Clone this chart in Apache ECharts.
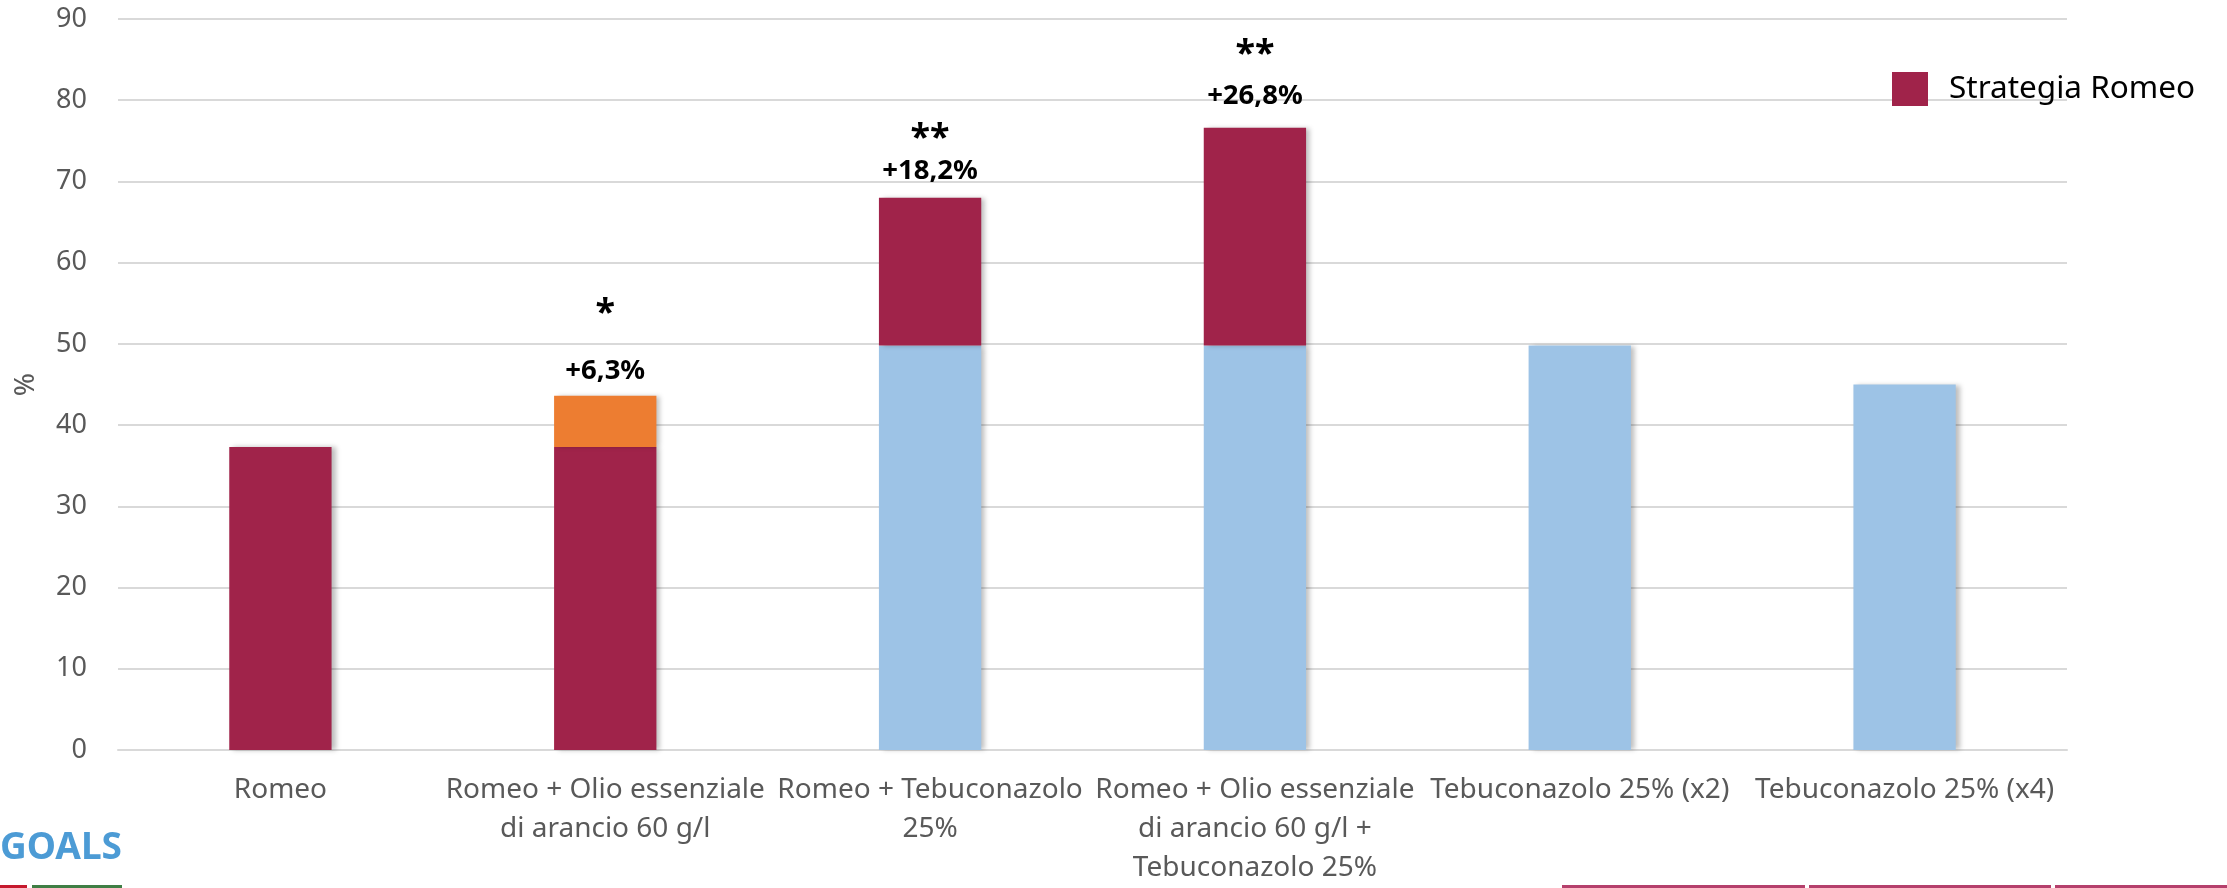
<!DOCTYPE html>
<html>
<head>
<meta charset="utf-8">
<script src="https://cdn.jsdelivr.net/npm/echarts@6/dist/echarts.min.js"></script>
<style>html,body{margin:0;padding:0;background:#fff}#c{width:2227px;height:888px}</style>
</head>
<body>
<div id="c"></div>
<script>
const categories = [
  'Romeo',
  'Romeo + Olio essenziale\ndi arancio 60 g/l',
  'Romeo + Tebuconazolo\n25%',
  'Romeo + Olio essenziale\ndi arancio 60 g/l +\nTebuconazolo 25%',
  'Tebuconazolo 25% (x2)',
  'Tebuconazolo 25% (x4)'
];
const tebuconazolo = ['-', '-', 49.8, 49.8, 49.8, 45.0];
const strategiaRomeo = [37.3, 37.3, 18.2, 26.8, '-', '-'];
const olioArancio = ['-', 6.3, '-', '-', '-', '-'];
const increments = ['', '+6,3%', '+18,2%', '+26,8%', '', ''];
const stars = ['', '*', '**', '**', '', ''];
const yTicks = { min: 0, max: 90, interval: 10 };

const shadow = { shadowBlur: 5, shadowOffsetX: 4, shadowOffsetY: 0, shadowColor: 'rgba(0,0,0,0.26)' };
const FONT = 'Noto Sans';

// per-annotation spacing (style only)
const starLineHeights = [0, 80, 30, 48, 0, 0];
const labelDistances = [0, 8, 10, 15, 0, 0];

function labelFor(i) {
  return {
    show: true,
    position: 'top',
    distance: labelDistances[i],
    formatter: '{s|' + stars[i] + '}\n{p|' + increments[i] + '}',
    rich: {
      s: { fontSize: 36, fontWeight: 'bold', color: '#000', fontFamily: FONT, lineHeight: starLineHeights[i] },
      p: { fontSize: 27.5, fontWeight: 'bold', color: '#000', fontFamily: FONT, lineHeight: 34 }
    }
  };
}

const redData = strategiaRomeo.map((v, i) => {
  if (increments[i] && olioArancio[i] === '-') return { value: v, label: labelFor(i) };
  return v;
});
const orangeData = olioArancio.map((v, i) => {
  if (increments[i] && v !== '-') return { value: v, label: labelFor(i) };
  return v;
});

const chart = echarts.init(document.getElementById('c'));
chart.setOption({
  animation: false,
  textStyle: { fontFamily: FONT },
  grid: { left: 118, right: 160, top: 19, bottom: 135 },
  legend: {
    data: ['Strategia Romeo'],
    left: 1887, top: 67,
    itemWidth: 36, itemHeight: 34,
    icon: 'rect',
    textStyle: { fontSize: 31.5, color: '#000', fontFamily: FONT, padding: [0,0,0,16] }
  },
  xAxis: {
    type: 'category',
    data: categories,
    axisLine: { show: true, lineStyle: { color: '#d9d9d9', width: 2 } },
    axisTick: { show: false },
    axisLabel: { color: '#595959', fontSize: 28, fontFamily: FONT, lineHeight: 39, margin: 21, interval: 0 }
  },
  yAxis: {
    type: 'value',
    min: yTicks.min, max: yTicks.max, interval: yTicks.interval,
    name: '%',
    nameLocation: 'middle',
    nameRotate: 90,
    nameGap: 78,
    nameTextStyle: { color: '#595959', fontSize: 28, fontFamily: FONT },
    axisLine: { show: false },
    axisTick: { show: false },
    axisLabel: { color: '#595959', fontSize: 27, fontFamily: FONT, margin: 31 },
    splitLine: { lineStyle: { color: '#d9d9d9', width: 2 } }
  },
  series: [
    {
      name: 'Tebuconazolo 25%', type: 'bar', stack: 'a', barWidth: '31.5%',
      data: tebuconazolo,
      itemStyle: Object.assign({ color: '#9DC3E6' }, shadow)
    },
    {
      name: 'Strategia Romeo', type: 'bar', stack: 'a', barWidth: '31.5%',
      data: redData,
      itemStyle: Object.assign({ color: '#A0234A' }, shadow)
    },
    {
      name: 'Olio essenziale di arancio', type: 'bar', stack: 'a', barWidth: '31.5%',
      data: orangeData,
      itemStyle: Object.assign({ color: '#ED7D31' }, shadow)
    }
  ],
  graphic: [
    { type: 'text', left: 0, top: 830, style: { text: 'GOALS', fontSize: 37, fontWeight: 'bold', fill: '#4C9BD5', fontFamily: FONT } },
    { type: 'rect', shape: { x: 0, y: 885, width: 27, height: 3 }, style: { fill: '#C5192D' } },
    { type: 'rect', shape: { x: 32, y: 885, width: 90, height: 3 }, style: { fill: '#3F7E44' } },
    { type: 'rect', shape: { x: 1562, y: 885, width: 243, height: 3 }, style: { fill: '#B5406C' } },
    { type: 'rect', shape: { x: 1809, y: 885, width: 242, height: 3 }, style: { fill: '#B5406C' } },
    { type: 'rect', shape: { x: 2055, y: 885, width: 172, height: 3 }, style: { fill: '#B5406C' } }
  ]
});
</script>
</body>
</html>
